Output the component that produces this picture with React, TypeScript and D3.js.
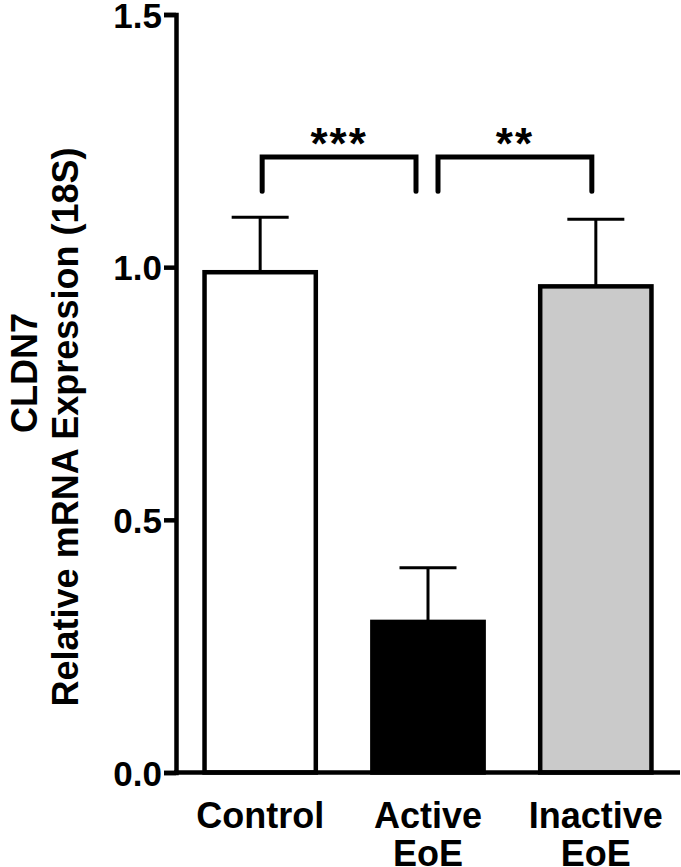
import * as d3 from "d3";
import { useEffect, useRef } from "react";

const categories = ["Control", "Active EoE", "Inactive EoE"];
const categoryLines = [["Control"], ["Active", "EoE"], ["Inactive", "EoE"]];
const means = [0.99, 0.298, 0.962];
const sems = [0.109, 0.107, 0.133];
const barFills = ["#ffffff", "#000000", "#cacaca"];
const yTicks = [0, 0.5, 1.0, 1.5];
const comparisons = [
  { from: "Control", to: "Active EoE", label: "***" },
  { from: "Active EoE", to: "Inactive EoE", label: "**" },
];
const bracketTop = 1.218;
const bracketBottom = 1.15;

const WIDTH = 681;
const HEIGHT = 867;
const FONT = "'Liberation Sans', Arial, Helvetica, sans-serif";

export default function App() {
  const svgRef = useRef<SVGSVGElement>(null);

  useEffect(() => {
    if (!svgRef.current) return;
    const svg = d3.select(svgRef.current);
    svg.selectAll("*").remove();

    const axisX = 176;
    const x = d3
      .scaleBand()
      .domain(categories)
      .range([axisX, 680])
      .paddingInner(0.337)
      .paddingOuter(0.17);

    const y = d3.scaleLinear().domain([0, 1.5]).range([772.5, 14.5]);
    const cx = (c: string) => (x(c) || 0) + x.bandwidth() / 2;

    const rows = categories.map((c, i) => ({
      cat: c,
      mean: means[i],
      sem: sems[i],
      fill: barFills[i],
      lines: categoryLines[i],
    }));

    // Error bars (upper only), drawn beneath bars
    const eb = svg.append("g");
    eb.selectAll("line.stem")
      .data(rows)
      .enter()
      .append("line")
      .attr("x1", (d) => cx(d.cat))
      .attr("x2", (d) => cx(d.cat))
      .attr("y1", (d) => y(d.mean))
      .attr("y2", (d) => y(d.mean + d.sem))
      .attr("stroke", "#000")
      .attr("stroke-width", 3);
    eb.selectAll("line.cap")
      .data(rows)
      .enter()
      .append("line")
      .attr("x1", (d) => cx(d.cat) - 28.5)
      .attr("x2", (d) => cx(d.cat) + 28.5)
      .attr("y1", (d) => y(d.mean + d.sem))
      .attr("y2", (d) => y(d.mean + d.sem))
      .attr("stroke", "#000")
      .attr("stroke-width", 3);

    // Bars
    svg
      .append("g")
      .selectAll("rect")
      .data(rows)
      .enter()
      .append("rect")
      .attr("x", (d) => x(d.cat) || 0)
      .attr("width", x.bandwidth())
      .attr("y", (d) => y(d.mean))
      .attr("height", (d) => y(0) - y(d.mean))
      .attr("fill", (d) => d.fill)
      .attr("stroke", "#000")
      .attr("stroke-width", 4.5);

    // Axes
    const yAxis = svg
      .append("g")
      .attr("transform", `translate(${axisX},0)`)
      .call(
        d3
          .axisLeft(y)
          .tickValues(yTicks)
          .tickSize(12)
          .tickPadding(2)
          .tickFormat(d3.format(".1f")),
      );
    yAxis.select(".domain").attr("stroke", "#000").attr("stroke-width", 4.5);
    yAxis.selectAll(".tick line").attr("stroke", "#000").attr("stroke-width", 4.5);
    yAxis
      .selectAll(".tick text")
      .attr("fill", "#000")
      .attr("font-family", FONT)
      .attr("font-weight", "bold")
      .attr("font-size", 35)
      .attr("dy", "0.36em");

    svg
      .append("line")
      .attr("x1", axisX - 2)
      .attr("x2", 680)
      .attr("y1", y(0))
      .attr("y2", y(0))
      .attr("stroke", "#000")
      .attr("stroke-width", 4.5);

    // Category labels
    const labels = svg
      .append("g")
      .selectAll("text")
      .data(rows)
      .enter()
      .append("text")
      .attr("text-anchor", "middle")
      .attr("font-family", FONT)
      .attr("font-weight", "bold")
      .attr("font-size", 36)
      .attr("fill", "#000");
    labels
      .selectAll("tspan")
      .data((d) => d.lines.map((l) => ({ l, c: d.cat })))
      .enter()
      .append("tspan")
      .attr("x", (d) => cx(d.c))
      .attr("y", (_, i) => 828 + i * 38)
      .text((d) => d.l);

    // Significance brackets
    const offsets = [
      [2, -12],
      [10, -4],
    ];
    const br = svg.append("g");
    comparisons.forEach((c, i) => {
      const x1 = cx(c.from) + offsets[i][0];
      const x2 = cx(c.to) + offsets[i][1];
      br.append("path")
        .attr(
          "d",
          `M${x1},${y(bracketBottom)}V${y(bracketTop)}H${x2}V${y(bracketBottom)}`,
        )
        .attr("fill", "none")
        .attr("stroke", "#000")
        .attr("stroke-width", 5)
        .attr("stroke-linecap", "round")
        .attr("stroke-linejoin", "miter");
      br.append("text")
        .attr("x", (x1 + x2) / 2)
        .attr("y", y(bracketTop) + 2)
        .attr("text-anchor", "middle")
        .attr("font-family", FONT)
        .attr("font-weight", "bold")
        .attr("font-size", 44)
        .attr("letter-spacing", 2)
        .attr("fill", "#000")
        .text(c.label);
    });

    // Y axis title (two lines, rotated)
    svg
      .append("text")
      .attr("transform", "translate(37,373) rotate(-90)")
      .attr("text-anchor", "middle")
      .attr("font-family", FONT)
      .attr("font-weight", "bold")
      .attr("font-size", 36)
      .attr("fill", "#000")
      .text("CLDN7");
    svg
      .append("text")
      .attr("transform", "translate(78,427) rotate(-90)")
      .attr("text-anchor", "middle")
      .attr("font-family", FONT)
      .attr("font-weight", "bold")
      .attr("font-size", 36)
      .attr("fill", "#000")
      .text("Relative mRNA Expression (18S)");
  }, []);

  return (
    <svg
      ref={svgRef}
      width={WIDTH}
      height={HEIGHT}
      style={{ position: "absolute", left: 0, top: 0, background: "#fff" }}
    />
  );
}
